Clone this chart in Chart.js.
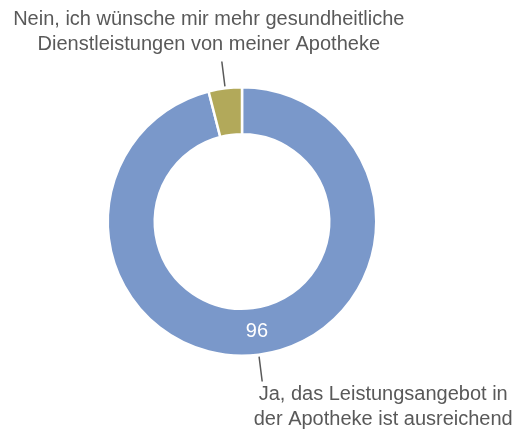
<!DOCTYPE html>
<html>
<head>
<meta charset="utf-8">
<script src="https://cdn.jsdelivr.net/npm/chart.js@4/dist/chart.umd.min.js"></script>
<style>
  html, body { margin: 0; padding: 0; background: #fff; }
  #wrap { width: 516px; height: 433px; position: relative; }
</style>
</head>
<body>
<div id="wrap"><canvas id="chart"></canvas></div>
<script>
// Data
const categories = [
  ['Ja, das Leistungsangebot in', 'der Apotheke ist ausreichend'],
  ['Nein, ich wünsche mir mehr gesundheitliche', 'Dienstleistungen von meiner Apotheke']
];
const values = [96, 4];
const sliceColors = ['#7A98CA', '#B2A95A'];
const showValue = [true, false];

const FONT = '"Liberation Sans", Arial, Helvetica, sans-serif';

// Outside labels with leader lines + value label inside the ring
const labelPlugin = {
  id: 'sliceLabels',
  afterDatasetsDraw(chart) {
    const ctx = chart.ctx;
    const arcs = chart.getDatasetMeta(0).data;
    ctx.save();
    arcs.forEach((arc, i) => {
      const p = arc.getProps(['x', 'y', 'startAngle', 'endAngle', 'innerRadius', 'outerRadius'], true);
      const mid = (p.startAngle + p.endAngle) / 2;
      const cos = Math.cos(mid), sin = Math.sin(mid);

      // value in the ring
      if (showValue[i]) {
        const r = (p.innerRadius + p.outerRadius) / 2;
        ctx.fillStyle = '#ffffff';
        ctx.font = '20px ' + FONT;
        ctx.textAlign = 'center';
        ctx.textBaseline = 'middle';
        ctx.fillText(String(values[i]), p.x + cos * r + 1, p.y + sin * r);
      }

      // leader line
      const x1 = p.x + cos * (p.outerRadius + 2), y1 = p.y + sin * (p.outerRadius + 2);
      const x2 = p.x + cos * (p.outerRadius + 27), y2 = p.y + sin * (p.outerRadius + 27);
      ctx.strokeStyle = '#595959';
      ctx.lineWidth = 1.5;
      ctx.beginPath();
      ctx.moveTo(x1, y1);
      ctx.lineTo(x2, y2);
      ctx.stroke();

      // category text
      ctx.fillStyle = '#595959';
      ctx.font = '20px ' + FONT;
      ctx.textAlign = 'center';
      ctx.textBaseline = 'middle';
      const lines = categories[i];
      const lh = 25;
      let cx, top;
      if (sin > 0) { cx = x2 + 121; top = y2 + 13; }
      else { cx = x2 - 13; top = y2 - 42; }
      lines.forEach((ln, k) => ctx.fillText(ln, cx, top + k * lh));
    });
    ctx.restore();
  }
};

new Chart(document.getElementById('chart'), {
  type: 'doughnut',
  data: {
    labels: categories.map(c => c.join(' ')),
    datasets: [{
      data: values,
      backgroundColor: sliceColors,
      borderColor: '#ffffff',
      borderWidth: 2.5
    }]
  },
  options: {
    responsive: true,
    maintainAspectRatio: false,
    animation: false,
    cutout: '65%',
    rotation: 0,
    layout: { padding: { top: 86, bottom: 76, left: 106, right: 138 } },
    plugins: {
      legend: { display: false },
      tooltip: { enabled: false }
    }
  },
  plugins: [labelPlugin]
});
</script>
</body>
</html>
